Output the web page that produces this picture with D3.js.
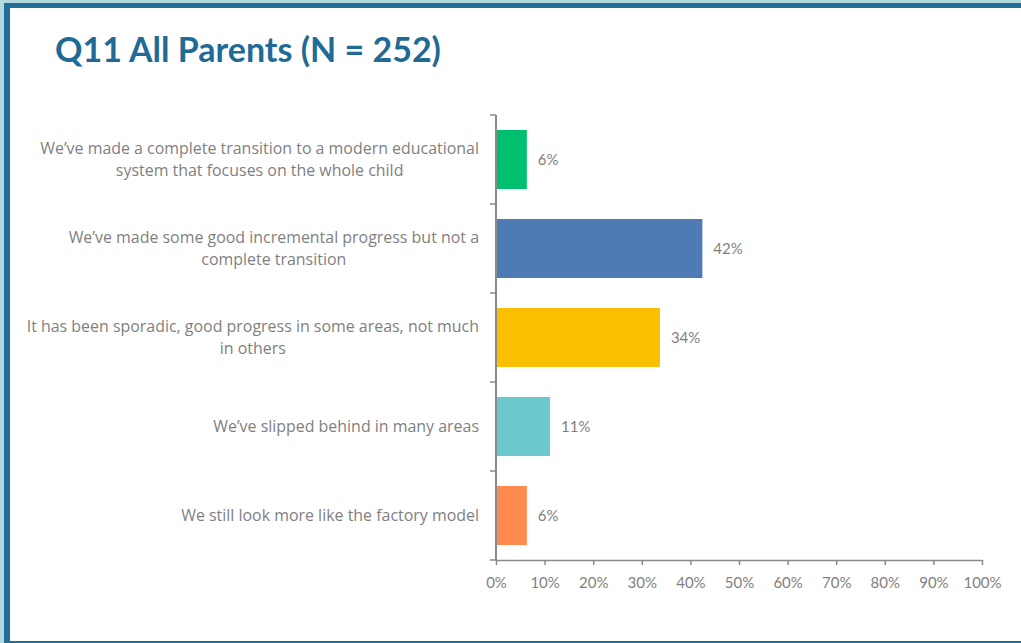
<!DOCTYPE html>
<html>
<head>
<meta charset="utf-8">
<script src="https://cdn.jsdelivr.net/npm/d3@7/dist/d3.min.js"></script>
<style>
  html, body { margin: 0; padding: 0; background: #fff; }
  svg { display: block; }
</style>
</head>
<body>
<svg id="chart" width="1021" height="643"></svg>
<script>
// ---- Data ----
const titleText = "Q11 All Parents (N = 252)";
const categories = [
  "We’ve made a complete transition to a modern educational\nsystem that focuses on the whole child",
  "We’ve made some good incremental progress but not a\ncomplete transition",
  "It has been sporadic, good progress in some areas, not much\nin others",
  "We’ve slipped behind in many areas",
  "We still look more like the factory model"
];
const values = [6.35, 42.46, 33.73, 11.11, 6.35];
const barColors = ["#00BF6F", "#4F7BB4", "#F9BF00", "#6BC8CC", "#FF8A4E"];
const xTicks = [0, 10, 20, 30, 40, 50, 60, 70, 80, 90, 100];

// ---- Layout ----
const W = 1021, H = 643;
const svg = d3.select("#chart");
const font = "Lato, 'Open Sans', sans-serif";
const labelFont = "'Open Sans', Lato, sans-serif";
const grey = "#7f7f7f";
const axisColor = "#8a8a8a";

svg.append("rect").attr("width", W).attr("height", H).attr("fill", "#fff");
// frame
svg.append("rect").attr("x", 0).attr("y", 0).attr("width", W).attr("height", 3).attr("fill", "#B3D8DF");
svg.append("rect").attr("x", 0).attr("y", 0).attr("width", 4).attr("height", H).attr("fill", "#B3D8DF");
svg.append("rect").attr("x", 4).attr("y", 3).attr("width", W - 4).attr("height", 5).attr("fill", "#236E98");
svg.append("rect").attr("x", 4).attr("y", 3).attr("width", 6).attr("height", H - 3).attr("fill", "#236E98");
svg.append("rect").attr("x", 10).attr("y", 641).attr("width", W - 10).attr("height", 2).attr("fill", "#236E98");

// title
const title = svg.append("text")
  .attr("x", 55).attr("y", 62)
  .attr("font-family", font).attr("font-weight", 700).attr("font-size", 34)
  .attr("fill", "#1F6B95")
  .text(titleText);

const x = d3.scaleLinear().domain([0, 100]).range([496, 982]);
const y = d3.scaleBand().domain(categories).range([115, 560]).paddingInner(0.337).paddingOuter(0.1685);

// bars
svg.append("g").selectAll("rect").data(categories).join("rect")
  .attr("x", x(0))
  .attr("y", d => y(d))
  .attr("width", (d, i) => x(values[i]) - x(0))
  .attr("height", y.bandwidth())
  .attr("fill", (d, i) => barColors[i]);

// value labels
svg.append("g").selectAll("text").data(categories).join("text")
  .attr("x", (d, i) => x(values[i]) + 11)
  .attr("y", d => y(d) + y.bandwidth() / 2)
  .attr("dy", "0.35em")
  .attr("font-family", font).attr("font-size", 15)
  .attr("fill", grey)
  .text((d, i) => Math.round(values[i]) + "%");

// y axis line and ticks
const step = y.step();
const gap = (step - y.bandwidth()) / 2;
const bounds = categories.map(c => y(c) - gap).concat([y(categories[categories.length - 1]) + y.bandwidth() + gap]);
const ya = svg.append("g");
ya.append("line").attr("x1", x(0)).attr("x2", x(0)).attr("y1", bounds[0]).attr("y2", bounds[bounds.length - 1])
  .attr("stroke", axisColor).attr("stroke-width", 2);
ya.selectAll("line.t").data(bounds).join("line").attr("class", "t")
  .attr("x1", x(0) - 6).attr("x2", x(0)).attr("y1", d => d).attr("y2", d => d)
  .attr("stroke", axisColor).attr("stroke-width", 1.5);

// category labels: lines centered, block right-aligned
// fit font size so the longest first line spans the width seen in the reference
const probe = svg.append("text").attr("font-family", labelFont).attr("font-size", 15)
  .text(categories[0].split("\n")[0]);
const labelSize = 15 * 439 / probe.node().getComputedTextLength();
probe.remove();
const lineH = 21.5;
categories.forEach(c => {
  const lines = c.split("\n");
  const g = svg.append("g");
  const t = g.append("text")
    .attr("font-family", labelFont).attr("font-size", labelSize).attr("fill", grey)
    .attr("text-anchor", "middle");
  const cy = y(c) + y.bandwidth() / 2;
  const spans = lines.map((l, k) => t.append("tspan").text(l)
    .attr("y", cy + (k - (lines.length - 1) / 2) * lineH).attr("dy", "0.35em"));
  const maxW = d3.max(spans, s => s.node().getComputedTextLength());
  const cx = 479 - maxW / 2;
  spans.forEach(s => s.attr("x", cx));
});

// x axis
const xa = svg.append("g").attr("transform", "translate(0,560)")
  .call(d3.axisBottom(x).tickValues(xTicks).tickSize(5).tickSizeOuter(0).tickPadding(12)
    .tickFormat(d => d + "%"));
xa.select(".domain").attr("stroke", axisColor).attr("stroke-width", 1.5);
xa.selectAll(".tick line").attr("stroke", axisColor).attr("stroke-width", 1.5);
xa.selectAll(".tick text").attr("font-family", font).attr("font-size", 15).attr("fill", grey);
</script>
</body>
</html>
